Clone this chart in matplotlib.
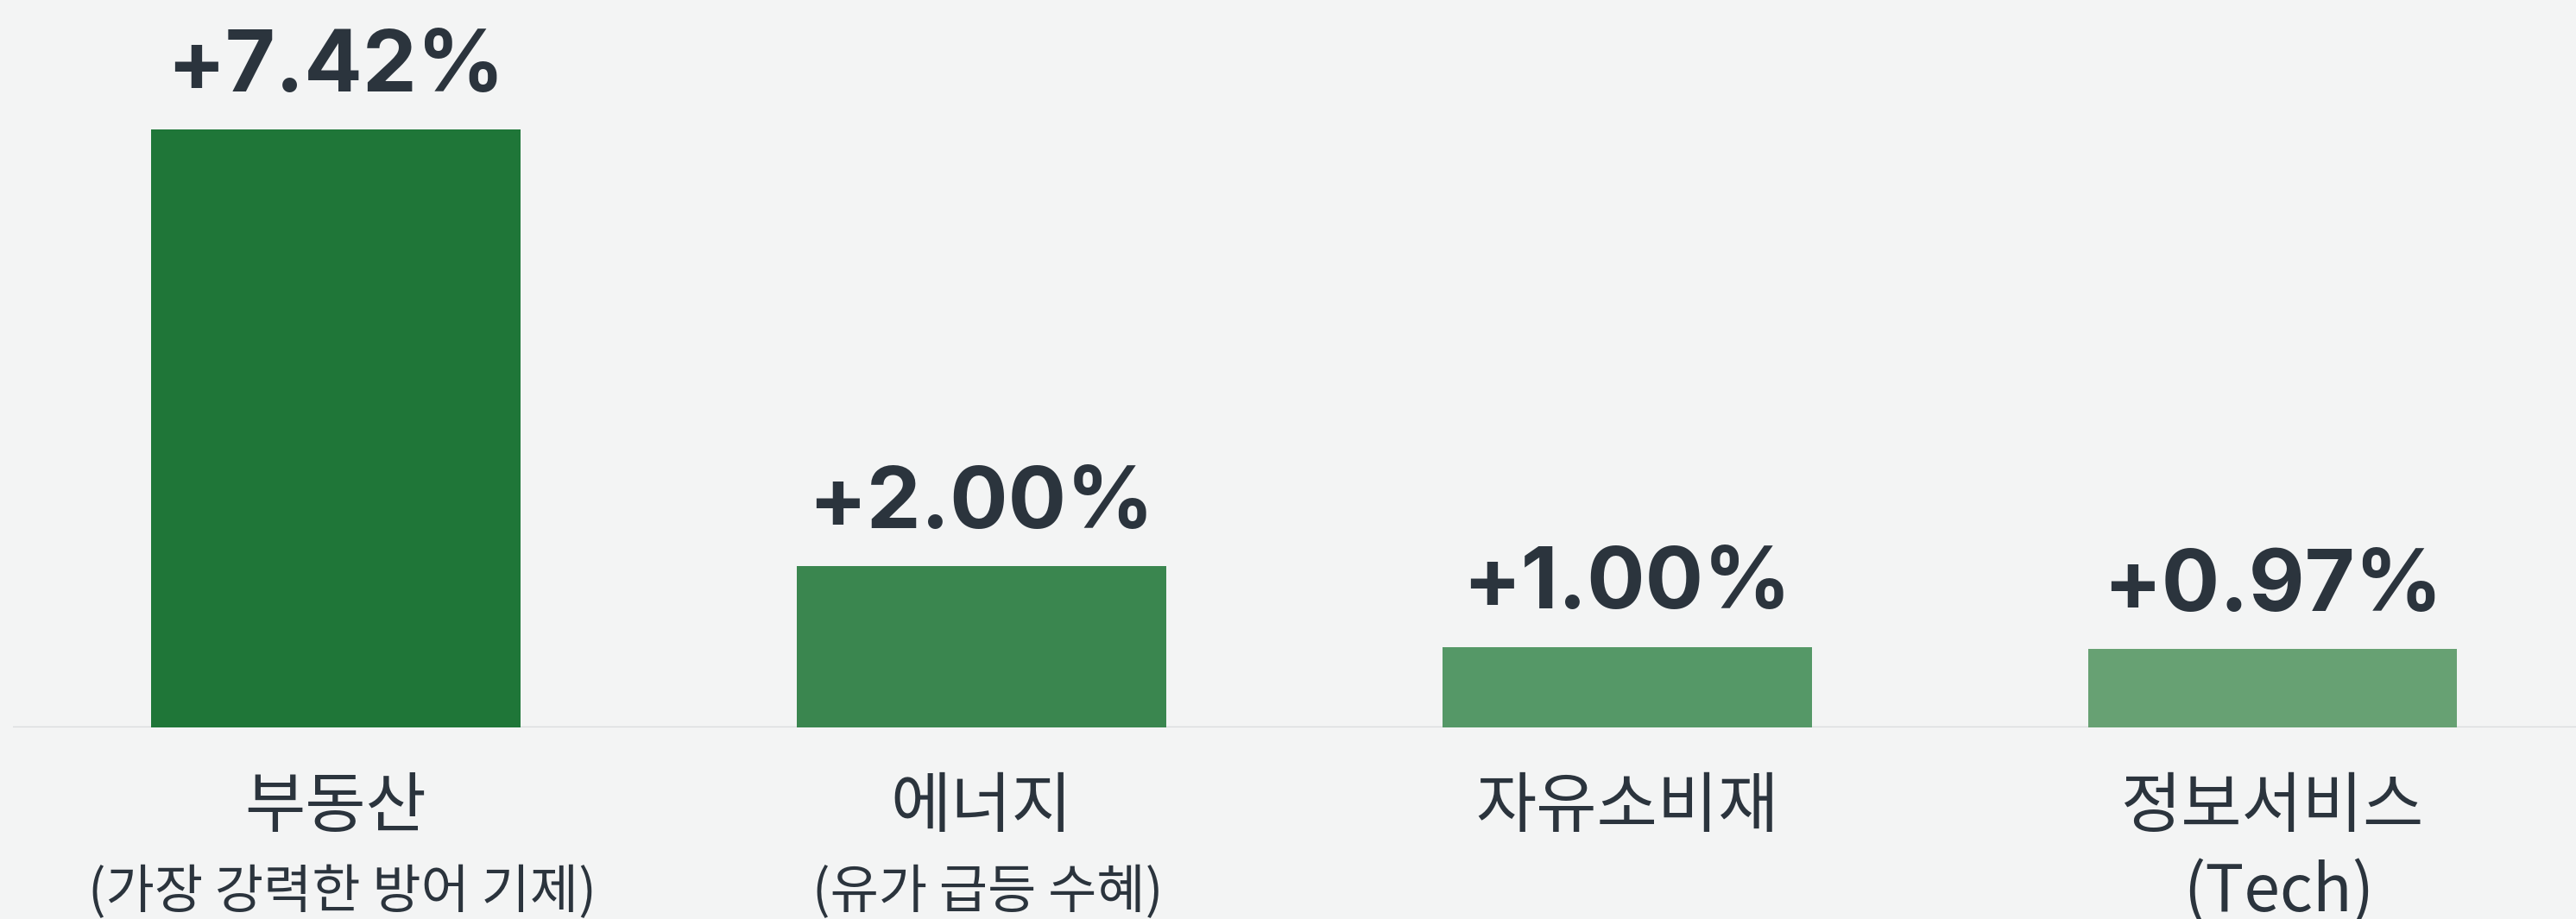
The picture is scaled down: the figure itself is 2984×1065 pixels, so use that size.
import matplotlib.pyplot as plt

# sector returns (%)
sectors = ["부동산", "에너지", "자유소비재", "정보서비스"]
sub_labels = ["(가장 강력한 방어 기제)", "(유가 급등 수혜)", "", "(Tech)"]
returns = [7.42, 2.00, 1.00, 0.97]
bar_colors = ["#1f7638", "#3a864f", "#559867", "#67a173"]

BG = "#f3f4f4"
TEXT = "#2b343d"
KR = ["Noto Sans CJK KR", "DejaVu Sans"]


def main():
    fig = plt.figure(figsize=(29.84, 10.65), dpi=100, facecolor=BG)
    ax = fig.add_axes([0.005, 0.2085, 0.995, 0.7915])
    ax.set_facecolor(BG)

    x = list(range(len(sectors)))
    ax.bar(x, returns, width=0.572, color=bar_colors, zorder=2)
    ax.axhline(0, color="#d9dbdd", lw=2.5, zorder=1)

    ax.set_xlim(-0.50, 3.47)
    ax.set_ylim(0, 9.03)

    for xi, v in zip(x, returns):
        ax.annotate(f"+{v:.2f}%", (xi, v), xytext=(0, 32),
                    textcoords="offset points", ha="center", va="baseline",
                    fontsize=72, fontweight="bold", color=TEXT,
                    family=["Inter", "DejaVu Sans"])

    tr = ax.get_xaxis_transform()
    for xi, name, sub in zip(x, sectors, sub_labels):
        ax.text(xi, -0.111, name, transform=tr, ha="center", va="center",
                fontsize=55, color=TEXT, family=KR)
        if sub:
            size = 54 if sub.startswith("(T") else 44
            ax.text(xi + 0.01, -0.227, sub, transform=tr, ha="center",
                    va="center", fontsize=size, color=TEXT, family=KR)

    for s in ax.spines.values():
        s.set_visible(False)
    ax.set_xticks([])
    ax.set_yticks([])

    fig.savefig("out.png", dpi=100, facecolor=BG)


if __name__ == "__main__":
    main()
